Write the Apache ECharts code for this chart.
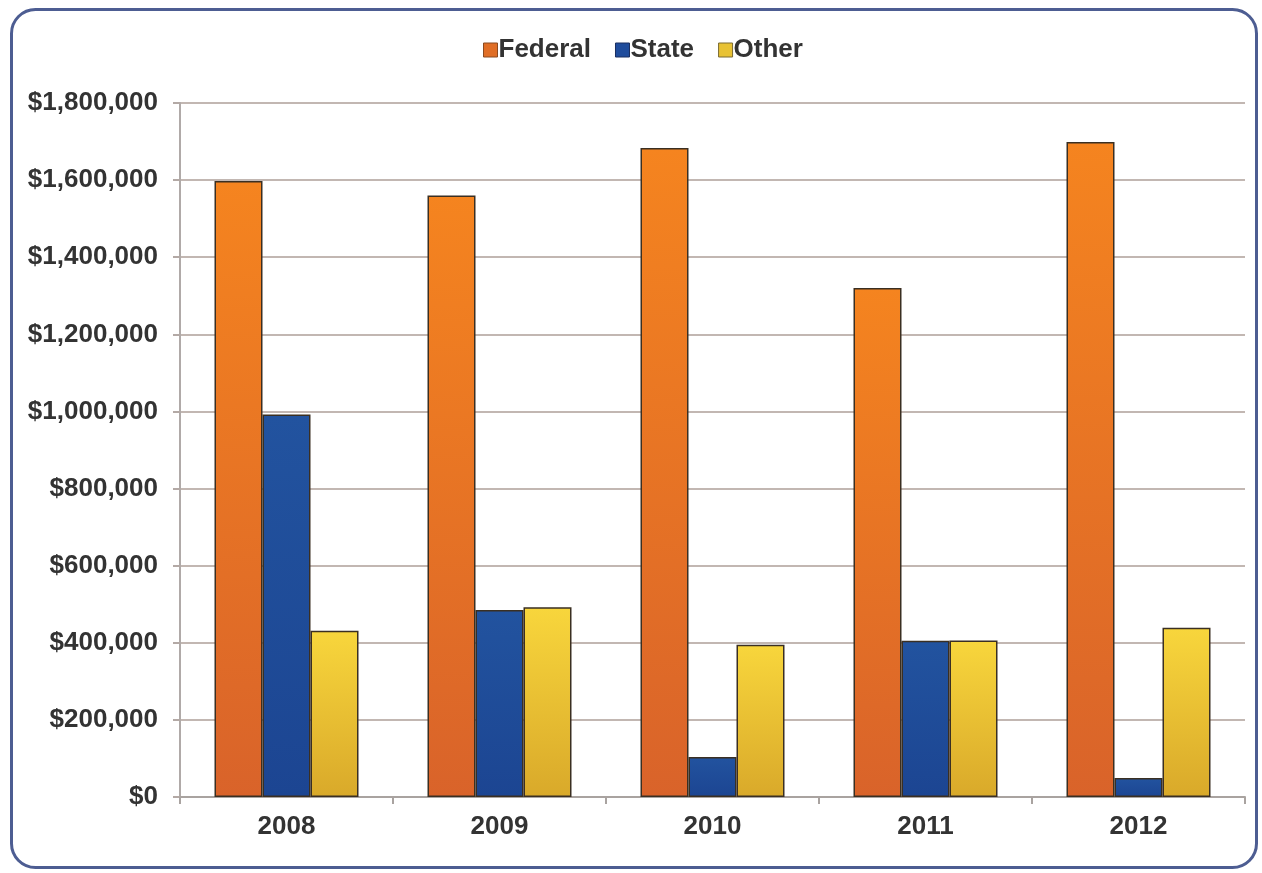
<!DOCTYPE html>
<html>
<head>
<meta charset="utf-8">
<script src="https://cdn.jsdelivr.net/npm/echarts@6/dist/echarts.min.js"></script>
<style>html,body{margin:0;padding:0;background:#fff}#c{width:1262px;height:873px}</style>
</head>
<body>
<div id="c"></div>
<script>
var years = ['2008', '2009', '2010', '2011', '2012'];
var federal = [1598000, 1560000, 1683000, 1320000, 1699000];
var state = [992000, 485000, 104000, 405000, 49000];
var other = [431000, 492000, 395000, 406000, 439000];
var yTicks = { min: 0, max: 1800000, interval: 200000 };

var chart = echarts.init(document.getElementById('c'), null, { renderer: 'canvas' });
function grad(a, b) {
  return new echarts.graphic.LinearGradient(0, 0, 0, 1, [{ offset: 0, color: a }, { offset: 1, color: b }]);
}
var font = '"Liberation Sans", Arial, Helvetica, sans-serif';
var barBorder = { borderColor: '#3a2f22', borderWidth: 1.5 };
chart.setOption({
  backgroundColor: '#fff',
  animation: false,
  textStyle: { fontFamily: font },
  graphic: [{
    type: 'rect', left: 10, top: 8, z: -1,
    shape: { width: 1245, height: 858, r: 24 },
    style: { fill: '#fff', stroke: '#4d5d92', lineWidth: 3 }
  }],
  legend: {
    top: 32, left: 478,
    icon: 'rect',
    itemWidth: 14, itemHeight: 14, itemGap: 24,
    textStyle: { fontSize: 26, fontWeight: 'bold', color: '#333', fontFamily: font, padding: [0, 0, 0, -4] },
    data: [
      { name: 'Federal', itemStyle: { color: '#e06e26', borderColor: '#8a4a20', borderWidth: 1 } },
      { name: 'State', itemStyle: { color: '#1f4c9c', borderColor: '#1a2e60', borderWidth: 1 } },
      { name: 'Other', itemStyle: { color: '#e8c234', borderColor: '#7a6a30', borderWidth: 1 } }
    ]
  },
  grid: { left: 180, right: 17, top: 103, bottom: 76, containLabel: false },
  xAxis: {
    type: 'category', data: years,
    axisLine: { lineStyle: { color: '#a9a3a0', width: 2 } },
    axisTick: { show: true, length: 7, alignWithLabel: false, lineStyle: { color: '#a9a3a0', width: 2 } },
    axisLabel: { fontSize: 26, fontWeight: 'bold', color: '#333', margin: 17, fontFamily: font }
  },
  yAxis: {
    type: 'value', min: yTicks.min, max: yTicks.max, interval: yTicks.interval,
    axisLine: { show: true, lineStyle: { color: '#b0aaa8', width: 2 } },
    axisTick: { show: true, length: 7, lineStyle: { color: '#b3a9a5', width: 2 } },
    splitLine: { lineStyle: { color: '#c2b7b2', width: 2 } },
    axisLabel: {
      fontSize: 26, fontWeight: 'bold', color: '#333', margin: 22, fontFamily: font,
      formatter: function (v) { return '$' + v.toLocaleString('en-US'); }
    }
  },
  series: [
    { name: 'Federal', type: 'bar', data: federal, barWidth: 48, barGap: '0%',
      itemStyle: Object.assign({ color: grad('#f5841f', '#d9632a') }, barBorder) },
    { name: 'State', type: 'bar', data: state, barWidth: 48, barGap: '0%',
      itemStyle: Object.assign({ color: grad('#22539f', '#1c4592') }, barBorder) },
    { name: 'Other', type: 'bar', data: other, barWidth: 48, barGap: '0%',
      itemStyle: Object.assign({ color: grad('#f8d63c', '#d9a92a') }, barBorder) }
  ]
});
</script>
</body>
</html>
